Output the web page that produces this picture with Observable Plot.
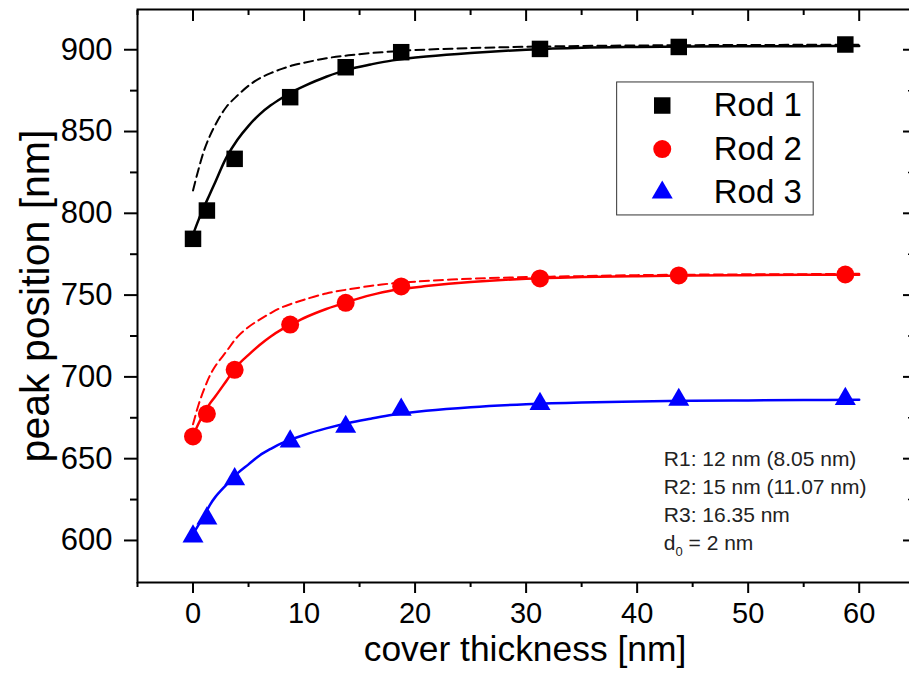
<!DOCTYPE html>
<html><head><meta charset="utf-8">
<script src="https://cdn.jsdelivr.net/npm/d3@7"></script>
<script src="https://cdn.jsdelivr.net/npm/@observablehq/plot@0.6"></script>
<style>
html,body{margin:0;padding:0;background:#fff;overflow:hidden}
#chart{width:909px;height:674px}
</style>
</head><body><div id="chart"></div>
<script>
// ---- measured points ----
const thickness = [0, 1.25, 3.75, 8.75, 13.75, 18.75, 31.25, 43.75, 58.75];
const rod1 = [784.4, 801.7, 833.3, 871.0, 889.3, 898.5, 900.5, 901.7, 903.2];
const rod2 = [663.6, 677.4, 704.3, 732.0, 745.3, 755.3, 760.2, 762.0, 762.6];
const rod3 = [602.5, 613.5, 637.5, 660.5, 669.5, 680.0, 683.5, 686.0, 686.5];

// ---- fitted curves ----
const fit1X = [0, 0.5, 1, 1.5, 2, 3, 4, 5, 6, 7, 8, 9, 10, 12, 14, 16, 18, 21, 25, 30, 35, 40, 45, 50, 55, 60];
const fit1Y = [787, 796, 804, 811.5, 819, 834, 845, 853.5, 860.5, 866, 870.5, 874.5, 877.8, 883.5, 888, 891, 893.5, 895.8, 898, 900, 901.2, 901.7, 902, 902.1, 902.2, 902.3];
const dash1X = [0, 0.5, 1, 1.5, 2, 3, 4, 5, 6, 7, 8, 9, 10, 12, 14, 17, 20, 25, 30, 35, 40, 45, 50, 55, 60];
const dash1Y = [814, 827, 838.5, 847, 854, 865, 872, 878, 882.5, 885.7, 888.3, 890.5, 892, 894.8, 896.6, 898.5, 899.8, 901, 901.8, 902.3, 902.6, 902.8, 902.9, 903, 903];

const fit2X = [0, 0.5, 1, 1.5, 2, 3, 4, 5, 6, 7, 8, 9, 10, 12, 14, 16, 18, 21, 25, 30, 35, 40, 45, 50, 55, 60];
const fit2Y = [664, 671.5, 678, 683.5, 688, 697.5, 707, 713.5, 719.5, 724.7, 729, 732.5, 736, 741.5, 746, 750, 753, 755.5, 758, 760, 761, 761.6, 762, 762.2, 762.4, 762.5];
const dash2X = [0, 0.5, 1, 1.5, 2, 3, 4, 5, 6, 7, 8, 9, 10, 12, 14, 17, 20, 25, 30, 35, 40, 45, 50, 55, 60];
const dash2Y = [671, 683, 692.5, 700.5, 706.5, 715.5, 724.5, 730.5, 735, 739, 742.5, 745, 747.2, 751, 753.5, 756.5, 758.2, 760, 761, 761.6, 762.2, 762.5, 762.7, 762.8, 763];

const fit3X = [0, 0.5, 1, 1.5, 2, 3, 4, 5, 6, 7, 8, 10, 12, 14, 16, 18, 21, 25, 30, 35, 40, 45, 50, 55, 60];
const fit3Y = [604, 609.5, 615, 621.5, 626.5, 634, 641, 646.5, 652, 656, 659.5, 664.5, 668.5, 671.8, 674.4, 676.8, 679.3, 681.5, 683.3, 684.4, 685, 685.4, 685.6, 685.8, 686];

// ---- text ----
const seriesNames = ["Rod 1", "Rod 2", "Rod 3"];
const seriesColors = ["#000000", "#ff0000", "#0000ff"];
const seriesSymbols = ["square", "circle", "triangle"];
const annotation = ["R1: 12 nm (8.05 nm)", "R2: 15 nm (11.07 nm)", "R3: 16.35 nm", "d\u2080 = 2 nm"];
const xMajor = [0, 10, 20, 30, 40, 50, 60];
const xMinor = [-5, 5, 15, 25, 35, 45, 55];
const yMajor = [600, 650, 700, 750, 800, 850, 900];
const yMinor = [625, 675, 725, 775, 825, 875];
const xTitle = "cover thickness [nm]";
const yTitle = "peak position [nm]";

const pts = (xs, ys) => xs.map((x, i) => ({x, y: ys[i]}));
const rods = [rod1, rod2, rod3];
const markerR = [9.3, 9, 7.8];

const font = "'Liberation Sans', Arial, Helvetica, sans-serif";

const marks = [
  Plot.frame({stroke: "black", strokeWidth: 2}),
  // bottom axis
  Plot.axisX({anchor: "bottom", ticks: xMajor, tickSize: 11, tickPadding: 9, fontSize: 29, label: null, strokeWidth: 2}),
  Plot.axisX({anchor: "bottom", ticks: xMinor, tickSize: 5, text: null, label: null, strokeWidth: 2}),
  // top axis (inward)
  Plot.axisX({anchor: "top", ticks: xMajor, tickSize: -11, text: null, label: null, strokeWidth: 2}),
  Plot.axisX({anchor: "top", ticks: xMinor, tickSize: -5, text: null, label: null, strokeWidth: 2}),
  // left axis
  Plot.axisY({anchor: "left", ticks: yMajor, tickSize: 13, tickPadding: 12, fontSize: 31, label: null, strokeWidth: 2}),
  Plot.axisY({anchor: "left", ticks: yMinor, tickSize: 7, text: null, label: null, strokeWidth: 2}),
  // right axis (inward)
  Plot.axisY({anchor: "right", ticks: yMajor, tickSize: -10, text: null, label: null, strokeWidth: 2}),
  Plot.axisY({anchor: "right", ticks: yMinor, tickSize: -5, text: null, label: null, strokeWidth: 1.5}),
  // axis titles
  Plot.text([xTitle], {frameAnchor: "bottom", text: d => d, dy: 67, fontSize: 35.4, lineAnchor: "middle", textAnchor: "middle"}),
  Plot.text([yTitle], {frameAnchor: "left", text: d => d, dx: -102, rotate: -90, fontSize: 41, lineAnchor: "middle", textAnchor: "middle"}),
  // fitted curves
  Plot.line(pts(dash1X, dash1Y), {x: "x", y: "y", stroke: seriesColors[0], strokeWidth: 2, strokeDasharray: "9,5", curve: "catmull-rom"}),
  Plot.line(pts(dash2X, dash2Y), {x: "x", y: "y", stroke: seriesColors[1], strokeWidth: 2, strokeDasharray: "9,5", curve: "catmull-rom"}),
  Plot.line(pts(fit1X, fit1Y), {x: "x", y: "y", stroke: seriesColors[0], strokeWidth: 2.5, curve: "catmull-rom"}),
  Plot.line(pts(fit2X, fit2Y), {x: "x", y: "y", stroke: seriesColors[1], strokeWidth: 2.5, curve: "catmull-rom"}),
  Plot.line(pts(fit3X, fit3Y), {x: "x", y: "y", stroke: seriesColors[2], strokeWidth: 2.5, curve: "catmull-rom"}),
  // markers
  ...rods.map((r, k) => Plot.dot(pts(thickness, r), {
    x: "x", y: "y", symbol: seriesSymbols[k], fill: seriesColors[k], stroke: "none", r: markerR[k]
  })),
  // legend box
  Plot.rect([0], {x1: 38.2, x2: 55.9, y1: 798.7, y2: 880.0, fill: "white", stroke: "#333", strokeWidth: 1}),
  ...seriesNames.map((name, i) => Plot.dot([name], {x: 42.26, y: 865.9 - i * 26.6, symbol: seriesSymbols[i], fill: seriesColors[i], r: markerR[i], stroke: "none"})),
  Plot.text(seriesNames, {x: 46.9, y: (d, i) => 865.9 - i * 26.6, text: d => d, textAnchor: "start", fontSize: 33, lineAnchor: "middle", fill: "black"}),
  // annotation
  Plot.text(annotation, {x: 42.4, y: (d, i) => 645.8 - i * 17.3, text: d => d, textAnchor: "start", lineAnchor: "bottom", fontSize: 21, fill: "#222"})
];

const chart = Plot.plot({
  width: 909,
  height: 674,
  marginLeft: 137,
  marginRight: -3,
  marginTop: 9,
  marginBottom: 92,
  x: {domain: [-5, 64.8], label: null},
  y: {domain: [574.3, 924.6], label: null},
  symbol: {type: "identity"},
  color: {type: "identity"},
  style: {fontFamily: font, color: "black", background: "white", overflow: "visible"},
  marks
});

// render subscript for d0
d3.select(chart).selectAll("text").each(function() {
  const t = d3.select(this);
  const s = this.textContent;
  if (s === annotation[3]) {
    t.text(null);
    t.append("tspan").text("d");
    t.append("tspan").attr("font-size", 13).attr("dy", 6).text("0");
    t.append("tspan").attr("dy", -6).text(" = 2 nm");
  }
});
document.getElementById("chart").appendChild(chart);
</script>
</body></html>
